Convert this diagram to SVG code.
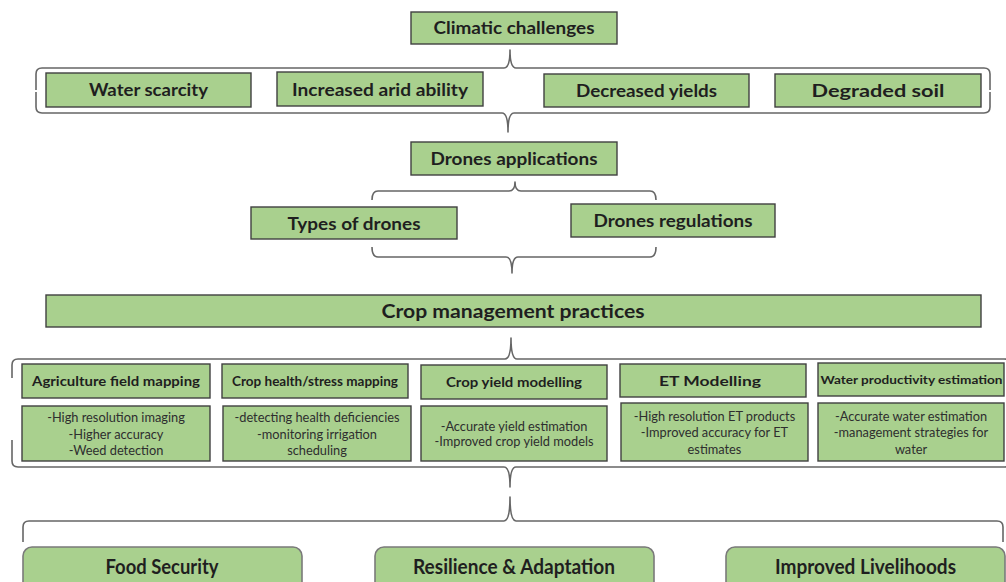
<svg xmlns="http://www.w3.org/2000/svg" width="1006" height="582" viewBox="0 0 1006 582">
<style>
.box{fill:#a9d08e;stroke:#404040;stroke-width:1.4}
.rbox{fill:#a9d08e;stroke:#7a7a7a;stroke-width:1.6}
.brace{fill:none;stroke:#666666;stroke-width:1.6;stroke-linejoin:round}
.t{font-family:Lato,"Liberation Sans",sans-serif;font-weight:bold;fill:#1f1f1f;text-anchor:middle}
.d{font-family:Lato,"Liberation Sans",sans-serif;font-weight:normal;fill:#2e2e2e;text-anchor:middle;font-size:12.8px}
</style>
<rect width="1006" height="582" fill="#ffffff"/>
<g id="connectors">
  <path class="brace" d="M36 90 L36 74 Q36 68 42 68 L504 68 Q510 68 510 50 Q510 68 516 68 L984 68 Q990 68 990 74 L990 90"/>
  <path class="brace" d="M36 92 L36 107 Q36 113 42 113 L502 113 Q508 113 508 132 Q508 113 514 113 L984 113 Q990 113 990 107 L990 92"/>
  <path class="brace" d="M372 200 Q372 191 378 191 L509 191 Q515 191 515 182 Q515 191 521 191 L650 191 Q656 191 656 200"/>
  <path class="brace" d="M372 247 Q372 257 378 257 L506 257 Q512 257 512 273 Q512 257 518 257 L650 257 Q656 257 656 247"/>
  <path class="brace" d="M12 378 L12 365 Q12 359 18 359 L505 359 Q511 359 511 338 Q511 359 517 359 L1004 359 Q1010 359 1010 365 L1010 378"/>
  <path class="brace" d="M12 440 L12 461 Q12 467 18 467 L504 467 Q510 467 510 487 Q510 467 516 467 L1004 467 Q1010 467 1010 461 L1010 440"/>
  <path class="brace" d="M23 542 L23 527 Q23 521 29 521 L504 521 Q510 521 510 497 Q510 521 516 521 L997 521 Q1003 521 1003 527 L1003 542"/>
</g>
<g id="climatic-challenges"><rect class="box" x="411" y="12" width="206" height="32"/><text class="t" x="514" y="34" font-size="16.5" textLength="161" lengthAdjust="spacingAndGlyphs">Climatic challenges</text></g>
<g id="water-scarcity"><rect class="box" x="46" y="73" width="205" height="34"/><text class="t" x="148.5" y="96" font-size="16.5" textLength="119" lengthAdjust="spacingAndGlyphs">Water scarcity</text></g>
<g id="increased-arid-ability"><rect class="box" x="277" y="72" width="206" height="34"/><text class="t" x="380" y="95.5" font-size="16.5" textLength="176" lengthAdjust="spacingAndGlyphs">Increased arid ability</text></g>
<g id="decreased-yields"><rect class="box" x="544" y="74" width="205" height="33"/><text class="t" x="646.5" y="96.5" font-size="16.5" textLength="141" lengthAdjust="spacingAndGlyphs">Decreased yields</text></g>
<g id="degraded-soil"><rect class="box" x="775" y="74" width="206" height="33"/><text class="t" x="878" y="96.5" font-size="16.5" textLength="133" lengthAdjust="spacingAndGlyphs">Degraded soil</text></g>
<g id="drones-applications"><rect class="box" x="411" y="142" width="206" height="33"/><text class="t" x="514" y="164.5" font-size="16.5" textLength="167" lengthAdjust="spacingAndGlyphs">Drones applications</text></g>
<g id="types-of-drones"><rect class="box" x="251" y="207" width="206" height="32"/><text class="t" x="354" y="229.5" font-size="16.5" textLength="133" lengthAdjust="spacingAndGlyphs">Types of drones</text></g>
<g id="drones-regulations"><rect class="box" x="571" y="204" width="204" height="33"/><text class="t" x="673" y="226.5" font-size="16.5" textLength="159" lengthAdjust="spacingAndGlyphs">Drones regulations</text></g>
<g id="crop-management-practices"><rect class="box" x="46" y="295" width="935" height="32"/><text class="t" x="513" y="318" font-size="19" textLength="263" lengthAdjust="spacingAndGlyphs">Crop management practices</text></g>
<g id="agriculture-field-mapping"><rect class="box" x="22" y="364" width="188" height="34"/><text class="t" x="116" y="386.3" font-size="14" textLength="168" lengthAdjust="spacingAndGlyphs">Agriculture field mapping</text></g>
<g id="crop-health-stress-mapping"><rect class="box" x="222" y="364" width="186" height="34"/><text class="t" x="315" y="386" font-size="13" textLength="166" lengthAdjust="spacingAndGlyphs">Crop health/stress mapping</text></g>
<g id="crop-yield-modelling"><rect class="box" x="421" y="365" width="186" height="34"/><text class="t" x="514" y="387" font-size="14" textLength="136" lengthAdjust="spacingAndGlyphs">Crop yield modelling</text></g>
<g id="et-modelling"><rect class="box" x="620" y="364" width="186" height="33"/><text class="t" x="710" y="386.3" font-size="14" textLength="102" lengthAdjust="spacingAndGlyphs">ET Modelling</text></g>
<g id="water-productivity-estimation"><rect class="box" x="818" y="363" width="186" height="33"/><text class="t" x="911.5" y="384.3" font-size="11.8" textLength="182" lengthAdjust="spacingAndGlyphs">Water productivity estimation</text></g>
<g id="agriculture-field-mapping-details"><rect class="box" x="22" y="406" width="188" height="55"/>
  <text class="d" x="116" y="422">-High resolution  imaging</text>
  <text class="d" x="116" y="438.5">-Higher accuracy</text>
  <text class="d" x="116" y="455">-Weed detection</text></g>
<g id="crop-health-details"><rect class="box" x="223" y="406" width="188" height="55"/>
  <text class="d" x="317" y="422">-detecting health deficiencies</text>
  <text class="d" x="317" y="438.5">-monitoring  irrigation</text>
  <text class="d" x="317" y="455">scheduling</text></g>
<g id="crop-yield-details"><rect class="box" x="421" y="406" width="186" height="55"/>
  <text class="d" x="514" y="430.5">-Accurate yield estimation</text>
  <text class="d" x="514" y="445.5">-Improved  crop yield models</text></g>
<g id="et-details"><rect class="box" x="621" y="403" width="187" height="58"/>
  <text class="d" x="714.5" y="420.5">-High resolution ET products</text>
  <text class="d" x="714.5" y="437">-Improved  accuracy for ET</text>
  <text class="d" x="714.5" y="453.5">estimates</text></g>
<g id="water-productivity-details"><rect class="box" x="818" y="403" width="186" height="58"/>
  <text class="d" x="911" y="420.5">-Accurate water estimation</text>
  <text class="d" x="911" y="437">-management  strategies for</text>
  <text class="d" x="911" y="453.5">water</text></g>
<g id="food-security"><rect class="rbox" x="23" y="547" width="279" height="60" rx="9"/><text class="t" x="162" y="573.5" font-size="20" textLength="113" lengthAdjust="spacingAndGlyphs">Food Security</text></g>
<g id="resilience-adaptation"><rect class="rbox" x="375" y="547" width="279" height="60" rx="9"/><text class="t" x="514" y="573.5" font-size="20" textLength="202" lengthAdjust="spacingAndGlyphs">Resilience &amp; Adaptation</text></g>
<g id="improved-livelihoods"><rect class="rbox" x="726" y="547" width="279" height="60" rx="9"/><text class="t" x="865.5" y="573.5" font-size="20" textLength="181" lengthAdjust="spacingAndGlyphs">Improved Livelihoods</text></g>
</svg>
